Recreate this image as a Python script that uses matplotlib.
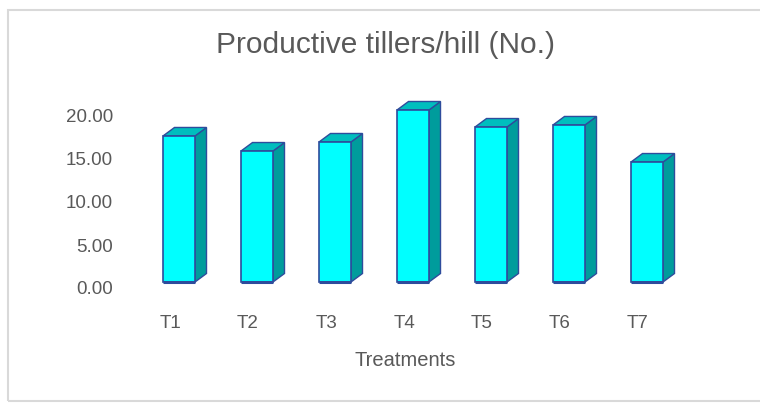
import matplotlib
matplotlib.use("Agg")
import matplotlib.pyplot as plt
from matplotlib.patches import Polygon, Rectangle
from matplotlib.transforms import ScaledTranslation
import numpy as np

plt.rcParams['font.family'] = ['Liberation Sans', 'DejaVu Sans']

categories = ["T1", "T2", "T3", "T4", "T5", "T6", "T7"]
values = [16.98, 15.23, 16.28, 20.0, 18.02, 18.26, 13.95]
yticks = [0, 5, 10, 15, 20]
ytick_labels = ["0.00", "5.00", "10.00", "15.00", "20.00"]
title = "Productive tillers/hill (No.)"
xlabel = "Treatments"

W, H, DPI = 760, 403, 100
fig = plt.figure(figsize=(W / DPI, H / DPI), dpi=DPI)
fig.patch.set_facecolor("white")

# border
fig.patches.append(Rectangle((8 / W, 2 / H), 1.0, (391) / H, transform=fig.transFigure,
                             fill=False, edgecolor="#D9D9D9", linewidth=1.5))

# axes geometry (pixels)
step = 78.0
ppu = 8.6
x0c = 179.0
left_px = x0c - step * 0.75
width_px = step * 7.5
base_px = 282.0
ymax = 24.0
ax = fig.add_axes([left_px / W, (H - base_px) / H, width_px / W, ymax * ppu / H])
ax.set_xlim(-0.75, 6.75)
ax.set_ylim(0, ymax)
for s in ax.spines.values():
    s.set_visible(False)
ax.set_facecolor("none")

x = np.arange(len(categories))
bw = 32 / step
dx = 11.5 / step
dy = 8.5 / ppu
front = "#00FFFF"
topc = "#00BEBE"
sidec = "#009C9C"
edge = "#2E4C9C"

for xi, v in zip(x, values):
    side = Polygon([(xi + bw / 2, 0), (xi + bw / 2 + dx, dy), (xi + bw / 2 + dx, v + dy), (xi + bw / 2, v)],
                   closed=True, facecolor=sidec, edgecolor=edge, linewidth=1.0, clip_on=False)
    top = Polygon([(xi - bw / 2, v), (xi + bw / 2, v), (xi + bw / 2 + dx, v + dy), (xi - bw / 2 + dx, v + dy)],
                  closed=True, facecolor=topc, edgecolor=edge, linewidth=1.0, clip_on=False)
    ax.add_patch(side)
    ax.add_patch(top)
ax.bar(x, values, width=bw, color=front, edgecolor=edge, linewidth=1.2, clip_on=False, zorder=3)
ax.plot([x - bw / 2, x + bw / 2], [[0] * len(x), [0] * len(x)], color=edge, linewidth=2.2,
        solid_capstyle="butt", zorder=4, clip_on=False)

ax.set_yticks(yticks)
ax.set_yticklabels(ytick_labels)
ax.set_xticks(x)
ax.set_xticklabels(categories)
ax.tick_params(axis="both", length=0, labelsize=13.5, labelcolor="#595959")
ax.tick_params(axis="y", pad=5.5)
ax.tick_params(axis="x", pad=24)

off_y = ScaledTranslation(0, -6 / DPI, fig.dpi_scale_trans)
for lab in ax.get_yticklabels():
    lab.set_transform(lab.get_transform() + off_y)
off_x = ScaledTranslation(-9 / DPI, 0, fig.dpi_scale_trans)
for lab in ax.get_xticklabels():
    lab.set_transform(lab.get_transform() + off_x)

fig.text(385 / W, 1 - 45 / H, title, ha="center", va="center", fontsize=21.5, color="#595959")
fig.text(405 / W, 1 - 360 / H, xlabel, ha="center", va="center", fontsize=14.5, color="#595959")

fig.savefig("out.png", dpi=DPI)
